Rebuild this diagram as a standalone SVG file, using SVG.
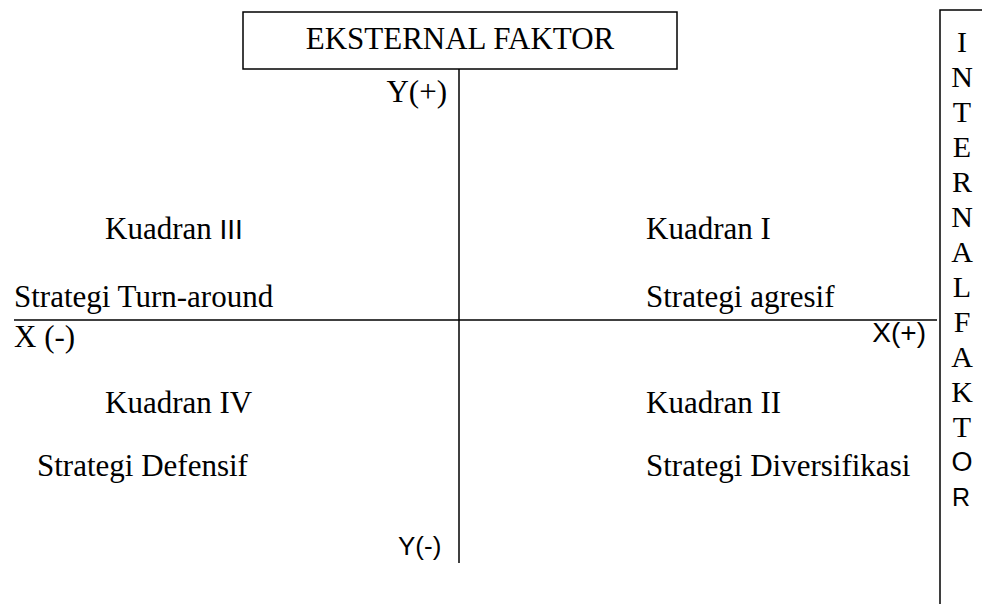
<svg xmlns="http://www.w3.org/2000/svg" width="982" height="604" viewBox="0 0 982 604">
<style>
.t{font-family:"Liberation Serif","Times New Roman",serif;font-size:31px;fill:#000}
.s{font-family:"Liberation Sans",Arial,sans-serif;font-size:28px;fill:#000}
.v{font-family:"Liberation Serif","Times New Roman",serif;font-size:30px;fill:#000;text-anchor:middle}
.vs{font-family:"Liberation Sans",Arial,sans-serif;font-size:25px;fill:#000;text-anchor:middle}
.ln{stroke:#000;stroke-width:1.5;fill:none}
</style>
<rect width="982" height="604" fill="#fff"/>
<g id="connectors">
<line class="ln" x1="459" y1="69" x2="459" y2="563"/>
<line class="ln" x1="14" y1="320" x2="937" y2="320"/>
</g>
<g id="eksternal">
<rect class="ln" x="243" y="12" width="434" height="57"/>
<text class="t" x="460" y="49" text-anchor="middle">EKSTERNAL FAKTOR</text>
</g>
<g id="internal">
<polyline class="ln" points="940,604 940,10 982,10"/>
<text class="v" x="962" y="52">I</text>
<text class="v" x="962" y="87">N</text>
<text class="v" x="962" y="122">T</text>
<text class="v" x="962" y="157">E</text>
<text class="v" x="962" y="192">R</text>
<text class="v" x="962" y="227">N</text>
<text class="v" x="962" y="262">A</text>
<text class="v" x="962" y="297">L</text>
<text class="v" x="962" y="332">F</text>
<text class="v" x="962" y="367">A</text>
<text class="v" x="962" y="402">K</text>
<text class="v" x="962" y="437">T</text>
<text class="vs" x="962" y="471" style="font-size:27px">O</text>
<text class="vs" x="961" y="506">R</text>
</g>
<g id="axes-labels">
<text class="t" x="447" y="102" text-anchor="end">Y(+)</text>
<text class="t" x="14" y="347">X (-)</text>
<text class="s" x="926" y="342" text-anchor="end">X(+)</text>
<text class="s" x="398" y="555" style="font-size:26px">Y(-)</text>
</g>
<g id="kuadran3">
<text class="t" x="105" y="239">Kuadran <tspan class="s">III</tspan></text>
<text class="t" x="14" y="307">Strategi Turn-around</text>
</g>
<g id="kuadran1">
<text class="t" x="646" y="239">Kuadran I</text>
<text class="t" x="646" y="307">Strategi agresif</text>
</g>
<g id="kuadran4">
<text class="t" x="105" y="413">Kuadran IV</text>
<text class="t" x="37" y="476">Strategi Defensif</text>
</g>
<g id="kuadran2">
<text class="t" x="646" y="413">Kuadran II</text>
<text class="t" x="646" y="476">Strategi Diversifikasi</text>
</g>
</svg>
